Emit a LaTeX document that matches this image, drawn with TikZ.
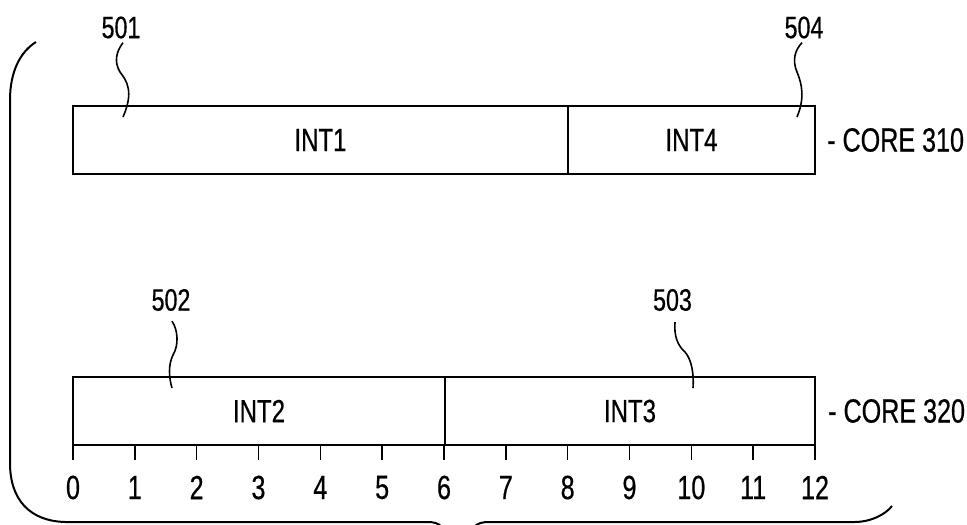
\documentclass[tikz,border=0pt]{standalone}
\usepackage{fontspec}
\setmainfont{Liberation Sans}[FakeStretch=0.75,FakeBold=0.5]
\begin{document}
\begin{tikzpicture}[x=1pt,y=-1pt,
  seg/.style={draw, line width=2.8pt, minimum height=68pt, inner sep=0pt, font=\fontsize{32}{32}\selectfont},
  refnum/.style={inner sep=0pt, font=\fontsize{31}{31}\selectfont},
  big/.style={inner sep=0pt, font=\fontsize{33.5}{33.5}\selectfont},
  leader/.style={line width=1.6pt},
  tick/.style={line width=1.5pt},
  bracel/.style={line width=2pt}]
\useasboundingbox (0,0) rectangle (967,525);
\clip (0,0) rectangle (967,525);
% boxes
\node[seg, minimum width=495pt] (int1) at (320.5,140) {INT1};
\node[seg, minimum width=247pt] (int4) at (691.5,140) {INT4};
\node[seg, minimum width=372pt] (int2) at (259,411) {INT2};
\node[seg, minimum width=370pt] (int3) at (630,411) {INT3};
% core labels
\node[big, anchor=west] (c310) at (827,140) {- CORE 310};
\node[big, anchor=west] (c320) at (828,411) {- CORE 320};
% reference numerals
\node[refnum] (n501) at (121,27.5) {501};
\node[refnum] (n504) at (804,27.5) {504};
\node[refnum] (n502) at (171,300) {502};
\node[refnum] (n503) at (672.5,300) {503};
\coordinate (e501) at (123,117);
\coordinate (e504) at (797,117);
\coordinate (e502) at (172,388);
\coordinate (e503) at (693,388);
\draw[leader] ([xshift=2pt,yshift=-4pt]n501.south) .. controls (116,52) and (114,62) .. (120,72) .. controls (127,81) and (134,92) .. (e501);
\draw[leader] ([xshift=-2pt,yshift=-4pt]n504.south) .. controls (795,50) and (792,60) .. (797,72) .. controls (802,84) and (805,98) .. (e504);
\draw[leader] ([xshift=1pt,yshift=-10pt]n502.south) .. controls (178,330) and (179,345) .. (173,355) .. controls (168,365) and (169,378) .. (e502);
\draw[leader] ([xshift=2.5pt,yshift=-11pt]n503.south) .. controls (674,335) and (677,345) .. (685,352) .. controls (692,360) and (694,375) .. (e503);
% ticks and scale
\foreach \i in {0,...,12}{
  \coordinate (tk\i) at ({73+61.833*\i},446);
  \draw[tick] (tk\i) -- ++(0,14);
  \node[big] (t\i) at ({73+61.833*\i},487.5) {\i};
}
% brace
\draw[bracel] (36,42) .. controls (20,52) and (10,72) .. (10,100)
  -- (10,463) .. controls (10,500) and (30,521) .. (65,522)
  -- (427,522) .. controls (434,522) and (438,523) .. (442,527) -- (456,545);
\draw[bracel] (460,545) -- (474,527) .. controls (478,523) and (482,522) .. (490,522)
  -- (855,522) .. controls (870,522) and (885,515) .. (892,506);
\end{tikzpicture}
\end{document}
